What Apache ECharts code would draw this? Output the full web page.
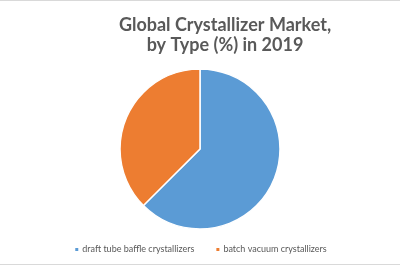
<!DOCTYPE html>
<html><head><meta charset="utf-8">
<script src="https://cdn.jsdelivr.net/npm/echarts@6/dist/echarts.min.js"></script>
<style>html,body{margin:0;padding:0;background:#fff}#c{width:400px;height:266px}</style>
</head><body><div id="c"></div>
<script>
const titleText = 'Global Crystallizer Market,\nby Type (%) in 2019';
const categories = ['draft tube baffle crystallizers', 'batch vacuum crystallizers'];
const values = [62.5, 37.5];
const colors = ['#5B9BD5', '#ED7D31'];

const chart = echarts.init(document.getElementById('c'), null, {renderer: 'canvas'});
chart.setOption({
  animation: false,
  backgroundColor: '#fff',
  title: {
    text: titleText,
    left: 225, top: 15, textAlign: 'center', padding: 0,
    textStyle: {fontFamily: 'Lato', fontWeight: 'bold', fontSize: 18, color: '#595959', lineHeight: 20}
  },
  legend: {
    top: 245, left: 'center', padding: 0,
    itemWidth: 5, itemHeight: 5, itemGap: 20,
    icon: 'rect',
    textStyle: {fontFamily: 'Lato', fontSize: 9, color: '#595959', padding: [0,0,0,-2]},
    data: categories
  },
  color: colors,
  graphic: [
    {type: 'rect', shape: {x: 0, y: 0, width: 400, height: 1}, style: {fill: '#d9d9d9'}},
    {type: 'rect', shape: {x: 0, y: 264, width: 400, height: 1}, style: {fill: '#d9d9d9'}}
  ],
  series: [{
    type: 'pie',
    center: [200, 149], radius: [0, 80],
    startAngle: 90, clockwise: true,
    label: {show: false}, labelLine: {show: false},
    itemStyle: {borderColor: '#fff', borderWidth: 1.5},
    emphasis: {disabled: true},
    data: categories.map((c, i) => ({name: c, value: values[i]}))
  }]
});
</script></body></html>
